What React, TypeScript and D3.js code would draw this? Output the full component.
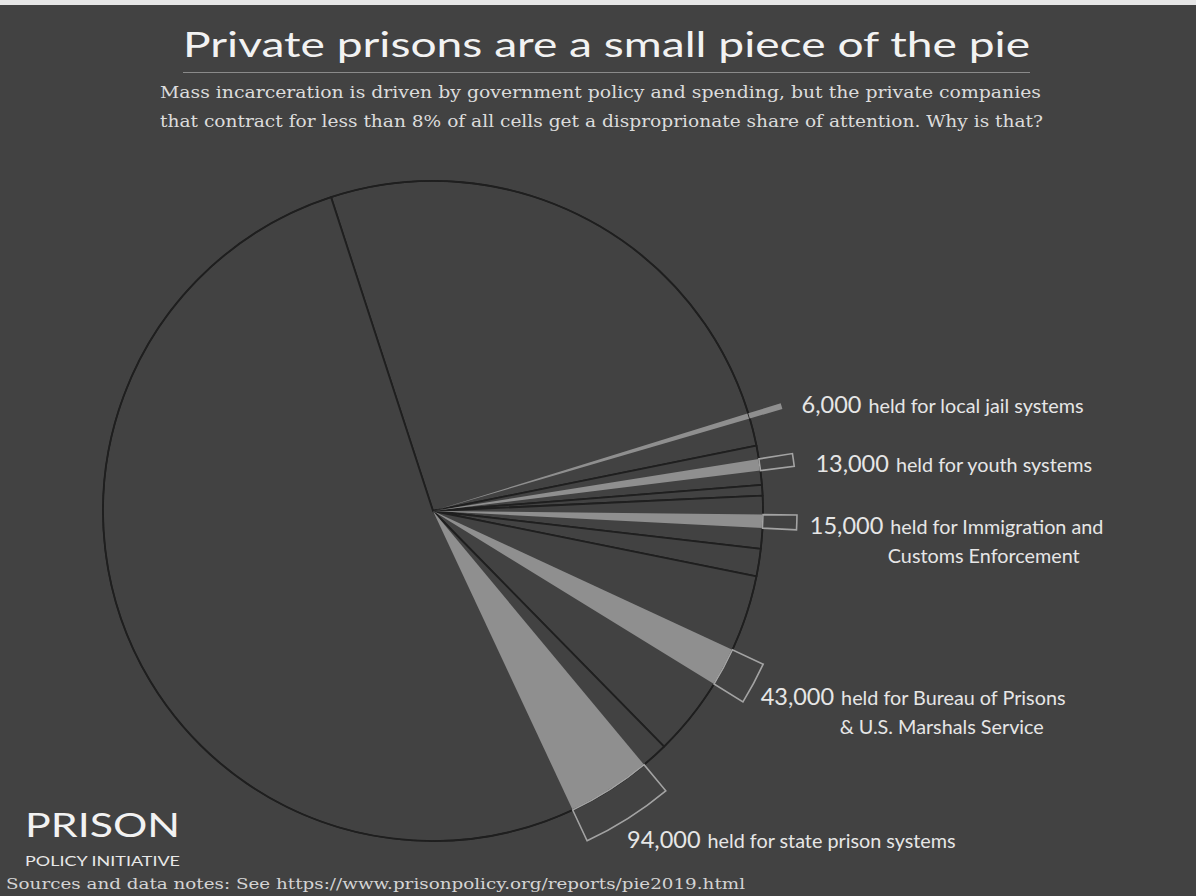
import React from "react";
import * as d3 from "d3";

const W = 1196;
const H = 896;

// Whole pie (thousands of people), clockwise from the upper-left divider
const sliceNames = [
  "Local jails",
  "Youth",
  "Other (small)",
  "Immigration detention",
  "Other (civil)",
  "Federal",
  "State prisons",
];
const sliceValues = [617, 44, 12, 59, 31, 218, 1319];

// Private contracts (thousands) shown inside their slice
const privateSlice = [0, 1, 3, 5, 6];
const privateCounts = [6, 13, 15, 43, 94];
const privateLead = [580, 15, 21, 86, 30]; // public part of slice before the private wedge
const labelNumbers = ["6,000", "13,000", "15,000", "43,000", "94,000"];
const labelLine1 = [
  "held for local jail systems",
  "held for youth systems",
  "held for Immigration and",
  "held for Bureau of Prisons",
  "held for state prison systems",
];
const labelLine2 = ["", "", "Customs Enforcement", "& U.S. Marshals Service", ""];

// layout (not data)
const labelOffsets = [
  [20, 7],
  [22, 12],
  [13, 12],
  [7, 22],
  [-1, 30],
];
const line2Offsets = [0, 0, 78, 79, 0];

const BG = "#424242";
const LIGHT = "#8f8f8f";
const DARK = "#1f1f1f";
const TEXT = "#e6e6e6";

export default function App() {
  const cx = 433;
  const cy = 511;
  const R = 330;
  const Rbox = 364;
  const total = d3.sum(sliceValues);
  const start = (-18 * Math.PI) / 180;

  const pie = d3
    .pie<number>()
    .sort(null)
    .value((d) => d)
    .startAngle(start)
    .endAngle(start + 2 * Math.PI);
  const arcs = pie(sliceValues);

  const angle = d3.scaleLinear().domain([0, total]).range([0, 2 * Math.PI]);
  const sliceArc = d3.arc<any>().innerRadius(0).outerRadius(R);
  const boxArc = d3.arc<any>().innerRadius(R).outerRadius(Rbox);

  const priv = privateSlice.map((si, i) => {
    const a0 = arcs[si].startAngle + angle(privateLead[i]);
    const a1 = a0 + angle(privateCounts[i]);
    const mid = (a0 + a1) / 2;
    const ox = Math.sin(mid) * Rbox;
    const oy = -Math.cos(mid) * Rbox;
    const widthPx = (a1 - a0) * Rbox;
    return { a0, a1, ox, oy, thin: widthPx < 8 };
  });

  return (
    <svg
      width={W}
      height={H}
      style={{ position: "absolute", left: 0, top: 0, display: "block" }}
    >
      <rect x={0} y={0} width={W} height={H} fill={BG} />
      <rect x={0} y={0} width={W} height={5} fill="#e6e6e6" />

      <text
        x={606.5}
        y={57}
        textAnchor="middle"
        fontFamily="Lato"
        fontSize={35}
        fill="#f2f2f2"
        textLength={847}
        lengthAdjust="spacingAndGlyphs"
      >
        Private prisons are a small piece of the pie
      </text>
      <line x1={183} x2={1030} y1={72.5} y2={72.5} stroke="#8a8a8a" strokeWidth={1} />
      <text
        x={600.5}
        y={98}
        textAnchor="middle"
        fontFamily="DejaVu Serif"
        fontSize={17}
        fill="#dcdcdc"
        textLength={881}
        lengthAdjust="spacingAndGlyphs"
      >
        Mass incarceration is driven by government policy and spending, but the private companies
      </text>
      <text
        x={601.5}
        y={127}
        textAnchor="middle"
        fontFamily="DejaVu Serif"
        fontSize={17}
        fill="#dcdcdc"
        textLength={883}
        lengthAdjust="spacingAndGlyphs"
      >
        that contract for less than 8% of all cells get a disproprionate share of attention. Why is that?
      </text>

      <g transform={`translate(${cx},${cy})`}>
        {arcs.map((a, i) => (
          <path
            key={sliceNames[i] + i}
            d={sliceArc(a) as string}
            fill={BG}
            stroke={DARK}
            strokeWidth={1.8}
            strokeLinejoin="round"
          />
        ))}
        {priv.map((p, i) => (
          <path
            key={"w" + i}
            d={sliceArc({ startAngle: p.a0, endAngle: p.a1 }) as string}
            fill={LIGHT}
          />
        ))}
        <circle r={R} fill="none" stroke={DARK} strokeWidth={1.5} />
        {priv.map((p, i) => (
          <path
            key={"b" + i}
            d={boxArc({ startAngle: p.a0, endAngle: p.a1 }) as string}
            fill={p.thin ? LIGHT : "none"}
            stroke={p.thin ? "none" : "#a3a3a3"}
            strokeWidth={1.6}
          />
        ))}
        {priv.map((p, i) => {
          const lx = p.ox + labelOffsets[i][0];
          const ly = p.oy + labelOffsets[i][1];
          return (
            <g key={"l" + i} fontFamily="Lato" fill={TEXT}>
              <text x={lx} y={ly}>
                <tspan fontSize={23.5}>{labelNumbers[i]}</tspan>
                <tspan fontSize={19.8} dx={7}>
                  {labelLine1[i]}
                </tspan>
              </text>
              {labelLine2[i] && (
                <text x={lx + line2Offsets[i]} y={ly + 29} fontSize={19.8}>
                  {labelLine2[i]}
                </text>
              )}
            </g>
          );
        })}
      </g>

      <text
        x={25}
        y={837}
        fontFamily="Lato"
        fontSize={32}
        fill="#f2f2f2"
        textLength={155}
        lengthAdjust="spacingAndGlyphs"
      >
        PRISON
      </text>
      <text
        x={25}
        y={866}
        fontFamily="Lato"
        fontSize={13.5}
        fill="#e8e8e8"
        textLength={155}
        lengthAdjust="spacingAndGlyphs"
      >
        POLICY INITIATIVE
      </text>
      <text
        x={6}
        y={889}
        fontFamily="DejaVu Serif"
        fontSize={15.5}
        fill="#d4d4d4"
        textLength={739}
        lengthAdjust="spacingAndGlyphs"
      >
        Sources and data notes: See https://www.prisonpolicy.org/reports/pie2019.html
      </text>
    </svg>
  );
}
